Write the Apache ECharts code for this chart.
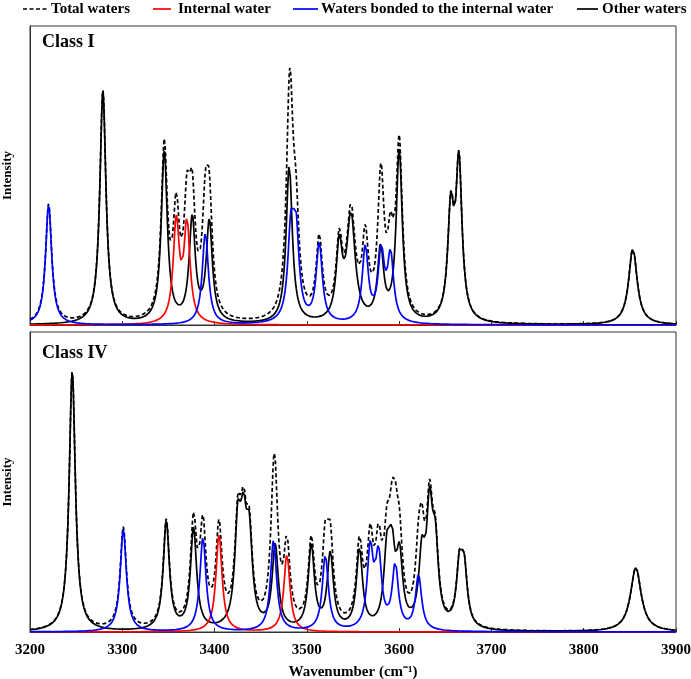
<!DOCTYPE html>
<html>
<head>
<meta charset="utf-8">
<title>Class I / Class IV water spectra</title>
<script src="https://cdn.jsdelivr.net/npm/echarts@6/dist/echarts.min.js"></script>
<style>
html, body { margin: 0; padding: 0; background: #fff; }
#chart { width: 691px; height: 679px; }
</style>
</head>
<body>
<div id="chart"></div>
<script>
// x axis
var xTicks = [3200, 3300, 3400, 3500, 3600, 3700, 3800, 3900];
var seriesNames = ['Total waters', 'Internal water', 'Waters bonded to the internal water', 'Other waters'];
var panelNames = ['Class I', 'Class IV'];

// peaks: [centre cm-1, height, half width (optional, default 4)]
var class1Internal = [[3358.5, 100], [3370.1, 97]];
var class1Bonded = [[3220.2, 120], [3390, 92], [3482.7, 84], [3488.2, 84], [3513.4, 79],
  [3563.3, 75], [3580.6, 69], [3590.7, 65]];
var class1Other = [[3279, 233], [3345.5, 171], [3375.8, 103], [3394.3, 100], [3480.9, 158],
  [3535.1, 72], [3547.8, 105, 5.5], [3579.9, 71], [3600.1, 171], [3656, 106], [3664.8, 155],
  [3853.3, 77, 5.5]];

var class4Internal = [[3404.8, 97], [3478.4, 77]];
var class4Bonded = [[3301.1, 102], [3387.4, 94], [3463.9, 91], [3520, 75], [3568.7, 78],
  [3577.7, 70], [3595.8, 64], [3621, 55]];
var class4Other = [[3245.8, 260], [3347.7, 108], [3377.2, 101], [3425.3, 96], [3431.4, 86],
  [3437.6, 82], [3465.7, 83], [3504.8, 83], [3525.4, 75], [3557, 79], [3586.8, 68],
  [3592.2, 66], [3600.4, 66], [3624.7, 66], [3633, 108], [3639.2, 72], [3665.4, 57],
  [3670.5, 53], [3856.5, 64, 7]];

var HW = 4;      // lorentzian half width used for the stick spectrum
var STEP = 0.5;

// broaden a peak list into a curve
function spectrum(peaks) {
  var out = [];
  for (var x = xTicks[0]; x <= xTicks[xTicks.length - 1]; x += STEP) {
    var y = 0;
    peaks.forEach(function (p) {
      var d = (x - p[0]) / (p[2] || HW);
      y += p[1] / (1 + d * d);
    });
    out.push([x, y]);
  }
  return out;
}

function total(a, b, c) {
  return a.map(function (pt, i) {
    return [pt[0], pt[1] + b[i][1] + c[i][1]];
  });
}

var panels = [
  [class1Internal, class1Bonded, class1Other],
  [class4Internal, class4Bonded, class4Other]
];

var font = 'Liberation Serif, Times New Roman, serif';
var colors = ['#000', '#ff0000', '#0000ff', '#000'];
var dash = [4, 2.5];
var lw = 1.7;
var grids = [
  { left: 30, right: 15, top: 26, height: 299 },
  { left: 30, right: 15, top: 332, height: 300 }
];

var series = [];
panels.forEach(function (p, k) {
  var inner = spectrum(p[0]);
  var bonded = spectrum(p[1]);
  var other = spectrum(p[2]);
  var base = { type: 'line', xAxisIndex: k, yAxisIndex: k, symbol: 'none', silent: true, animation: false };
  series.push(Object.assign({}, base, {
    name: seriesNames[0], data: total(inner, bonded, other),
    lineStyle: { color: colors[0], width: lw, type: dash }
  }));
  series.push(Object.assign({}, base, {
    name: seriesNames[3], data: other,
    lineStyle: { color: colors[3], width: lw }
  }));
  series.push(Object.assign({}, base, {
    name: seriesNames[1], data: inner,
    lineStyle: { color: colors[1], width: lw }
  }));
  series.push(Object.assign({}, base, {
    name: seriesNames[2], data: bonded,
    lineStyle: { color: colors[2], width: lw }
  }));
});

// legend drawn by hand: line sample + label
var legendPos = [[23, 49, 51], [153, 171, 178], [293, 318, 321], [577, 598, 602]];
var legendGraphics = [];
seriesNames.forEach(function (n, i) {
  var lp = legendPos[i];
  legendGraphics.push({
    type: 'line', shape: { x1: lp[0], y1: 9, x2: lp[1], y2: 9 },
    style: { stroke: colors[i], lineWidth: 1.7, lineDash: i === 0 ? dash : null }
  });
  legendGraphics.push({
    type: 'text', x: lp[2], y: 9,
    style: { text: n, fill: '#000', font: 'bold 15px ' + font, verticalAlign: 'middle' }
  });
});

var xAxes = grids.map(function (g, k) {
  return {
    type: 'value', gridIndex: k,
    min: xTicks[0], max: xTicks[xTicks.length - 1], interval: 100,
    axisLine: { show: true, lineStyle: { color: '#333', width: 1 } },
    axisTick: { show: true, inside: true, length: 4, lineStyle: { color: '#333' } },
    splitLine: { show: false },
    axisLabel: {
      show: k === 1, margin: 11, color: '#000',
      fontFamily: font, fontWeight: 'bold', fontSize: 15,
      formatter: function (v) { return String(v); }
    },
    name: k === 1 ? 'Wavenumber (cm\u207B\u00B9)' : '',
    nameLocation: 'middle', nameGap: 33,
    nameTextStyle: { color: '#000', fontFamily: font, fontWeight: 'bold', fontSize: 15 }
  };
});

var yAxes = grids.map(function (g, k) {
  return {
    type: 'value', gridIndex: k, min: 0, max: 300,
    axisLine: { show: true, lineStyle: { color: '#333', width: 1 } },
    axisTick: { show: false }, axisLabel: { show: false }, splitLine: { show: false },
    name: 'Intensity', nameLocation: 'middle', nameGap: 16, nameRotate: 90,
    nameTextStyle: { color: '#000', fontFamily: font, fontWeight: 'bold', fontSize: 13 }
  };
});

var chart = echarts.init(document.getElementById('chart'), null, { renderer: 'canvas' });
chart.setOption({
  animation: false,
  backgroundColor: '#fff',
  title: [
    { text: panelNames[0], left: 42, top: 33, padding: 0,
      textStyle: { fontFamily: font, fontWeight: 'bold', fontSize: 18, color: '#000' } },
    { text: panelNames[1], left: 42, top: 344, padding: 0,
      textStyle: { fontFamily: font, fontWeight: 'bold', fontSize: 18, color: '#000' } }
  ],
  graphic: legendGraphics,
  grid: grids.map(function (g) {
    return Object.assign({
      show: true, borderColor: '#333', borderWidth: 1, backgroundColor: 'transparent',
      outerBoundsMode: 'none', containLabel: false
    }, g);
  }),
  xAxis: xAxes,
  yAxis: yAxes,
  series: series
});
</script>
</body>
</html>
